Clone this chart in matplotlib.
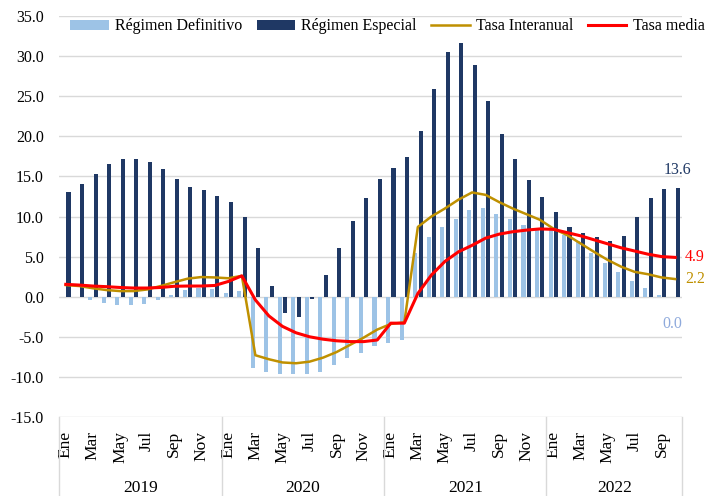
import numpy as np
import matplotlib.pyplot as plt
import matplotlib.transforms as mtransforms

# Datos mensuales ene-2019 a oct-2022
meses = ['Ene', 'Feb', 'Mar', 'Abr', 'May', 'Jun', 'Jul', 'Ago', 'Sep', 'Oct', 'Nov', 'Dic']
anios = ['2019', '2020', '2021', '2022']
meses_por_anio = [12, 12, 12, 10]

definitivo = [
    0.0, 0.0, -0.4, -0.75, -1.05, -1.05, -0.85, -0.35, 0.2, 0.8, 1.05, 1.0,
    0.5, 0.7, -8.9, -9.4, -9.7, -9.7, -9.7, -9.4, -8.5, -7.7, -7.0, -6.2,
    -5.8, -5.4, 5.5, 7.5, 8.7, 9.7, 10.8, 11.1, 10.3, 9.7, 9.0, 8.6,
    8.3, 7.7, 6.9, 5.4, 4.2, 3.1, 2.0, 1.1, 0.25, 0.0
]
especial = [
    13.0, 14.1, 15.25, 16.6, 17.2, 17.2, 16.8, 15.9, 14.7, 13.7, 13.25, 12.6,
    11.8, 9.9, 6.1, 1.3, -2.0, -2.5, -0.25, 2.7, 6.1, 9.5, 12.3, 14.7,
    16.0, 17.4, 20.6, 25.9, 30.5, 31.6, 28.9, 24.4, 20.3, 17.2, 14.6, 12.4,
    10.5, 8.7, 7.9, 7.4, 6.9, 7.6, 9.9, 12.3, 13.4, 13.6
]
interanual = [
    1.45, 1.33, 1.05, 0.83, 0.7, 0.7, 0.9, 1.33, 1.8, 2.25, 2.45, 2.4,
    2.3, 2.6, -7.3, -7.8, -8.2, -8.3, -8.1, -7.6, -6.9, -6.0, -5.1, -4.1,
    -3.4, -3.2, 8.7, 10.0, 11.0, 12.1, 13.0, 12.7, 11.8, 11.0, 10.3, 9.6,
    8.5, 7.7, 6.65, 5.6, 4.6, 3.75, 3.1, 2.8, 2.4, 2.2
]
media = [
    1.54, 1.45, 1.33, 1.25, 1.15, 1.08, 1.08, 1.15, 1.3, 1.33, 1.33, 1.4,
    1.9, 2.6, -0.4, -2.4, -3.7, -4.5, -5.0, -5.3, -5.5, -5.6, -5.6, -5.4,
    -3.3, -3.3, 0.4, 2.7, 4.4, 5.6, 6.4, 7.3, 7.8, 8.1, 8.3, 8.45,
    8.4, 8.0, 7.6, 7.1, 6.6, 6.1, 5.7, 5.3, 5.0, 4.9
]

c_def = '#9DC3E6'
c_esp = '#1F3864'
c_int = '#BF9000'
c_med = '#FF0000'
c_grid = '#D9D9D9'

plt.rcParams['font.family'] = ['Liberation Serif', 'DejaVu Serif']
plt.rcParams['font.size'] = 11

fig = plt.figure(figsize=(7.07, 4.96), dpi=100)
ax = fig.add_axes([0.0835, 0.1593, 0.881, 0.8084])

x = np.arange(len(definitivo))
ax.bar(x - 0.2, definitivo, width=0.3, color=c_def, label='Régimen Definitivo', zorder=2)
ax.bar(x + 0.2, especial, width=0.3, color=c_esp, label='Régimen Especial', zorder=2)
ax.plot(x, interanual, color=c_int, lw=1.8, label='Tasa Interanual', zorder=3)
ax.plot(x, media, color=c_med, lw=2.2, label='Tasa media', zorder=4)

ax.set_xlim(-0.5, len(x) - 0.5)
ax.set_ylim(-15, 35)
ax.set_yticks(np.arange(-15, 36, 5))
ax.set_yticklabels([f'{v:.1f}' for v in np.arange(-15, 36, 5)])
ax.grid(axis='y', color=c_grid, lw=1)
ax.set_axisbelow(True)
for s in ax.spines.values():
    s.set_visible(False)
ax.tick_params(axis='y', length=0, pad=11, labelsize=11.5)

# Etiquetas de meses (uno de cada dos)
pos = x[::2]
ax.set_xticks(pos)
ax.set_xticklabels([meses[i % 12] for i in pos], rotation=90)
ax.tick_params(axis='x', length=0, pad=10, labelsize=12.5)

# Niveles de año y caja del eje de categorías
trans = mtransforms.blended_transform_factory(ax.transData, ax.transAxes)
inicio = -0.5
for anio, n in zip(anios, meses_por_anio):
    ax.plot([inicio, inicio], [0, -0.25], color=c_grid, lw=1, transform=trans, clip_on=False)
    ax.text(inicio + n / 2, -0.176, anio, transform=trans, ha='center', va='center', fontsize=12.5)
    inicio += n
ax.plot([inicio, inicio], [0, -0.25], color=c_grid, lw=1, transform=trans, clip_on=False)

# Etiquetas del último dato
ult = len(x) - 1
ax.annotate(f'{especial[-1]:.1f}', xy=(ult + 0.2, especial[-1]), xytext=(0, 7), textcoords='offset points',
            ha='center', va='bottom', color=c_esp, fontsize=11.5)
ax.annotate(f'{definitivo[-1]:.1f}', xy=(ult - 0.2, definitivo[-1]), xytext=(0, -14), textcoords='offset points',
            ha='center', va='top', color='#8FAADC', fontsize=11.5)
ax.annotate(f'{media[-1]:.1f}', xy=(ult, media[-1]), xytext=(7, 0), textcoords='offset points',
            ha='left', va='center', color=c_med, fontsize=11.5, annotation_clip=False)
ax.annotate(f'{interanual[-1]:.1f}', xy=(ult, interanual[-1]), xytext=(7, 0), textcoords='offset points',
            ha='left', va='center', color=c_int, fontsize=11.5, annotation_clip=False)

h, l = ax.get_legend_handles_labels()
orden = [2, 3, 0, 1]
fig.legend([h[i] for i in orden], [l[i] for i in orden], ncol=4, loc='center',
           bbox_to_anchor=(0.548, 0.947), frameon=False, fontsize=11.5,
           handlelength=2.4, handleheight=0.6, columnspacing=0.9, handletextpad=0.4)

fig.savefig('out.png', dpi=100)
